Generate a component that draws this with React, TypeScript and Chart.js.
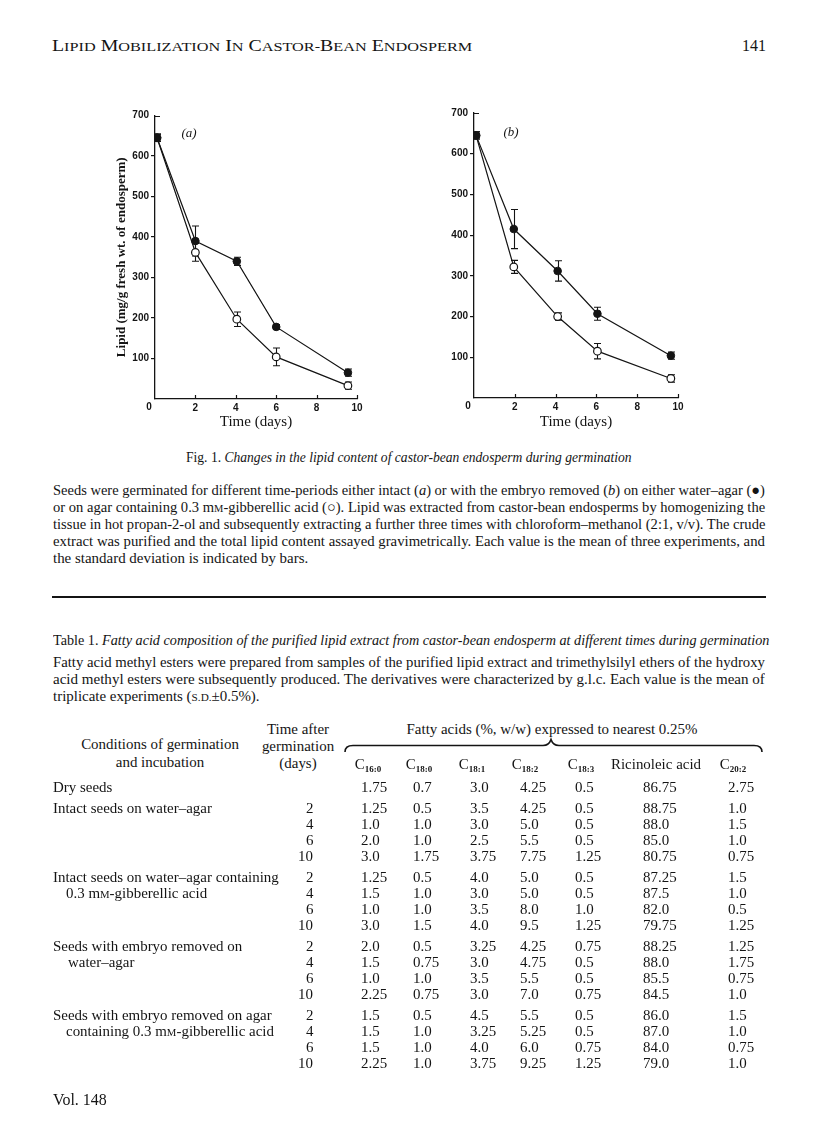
import React, { useEffect, useLayoutEffect, useRef } from 'react';
import { Chart, registerables } from 'chart.js';
Chart.register(...registerables);

// ---------- Figure data ----------
const daysA = [0.1, 2, 4.05, 6, 9.55];
const waterA = [645, 390, 340, 178, 65];
const waterSdA = [9, 37, 10, 6, 9];
const gaA = [645, 362, 197, 104, 33];
const gaSdA = [9, 22, 18, 22, 9];

const daysB = [0.1, 1.95, 4.1, 6.05, 9.65];
const waterB = [645, 415, 312, 207, 104];
const waterSdB = [9, 48, 25, 16, 9];
const gaB = [645, 322, 200, 115, 48];
const gaSdB = [9, 16, 9, 19, 9];

const xTickValues = [2, 4, 6, 8, 10];
const yTopTick = 700;

// ---------- Table data ----------
const rowDays = ['', '2', '4', '6', '10', '2', '4', '6', '10', '2', '4', '6', '10', '2', '4', '6', '10'];
const c16_0 = ['1.75', '1.25', '1.0', '2.0', '3.0', '1.25', '1.5', '1.0', '3.0', '2.0', '1.5', '1.0', '2.25', '1.5', '1.5', '1.5', '2.25'];
const c18_0 = ['0.7', '0.5', '1.0', '1.0', '1.75', '0.5', '1.0', '1.0', '1.5', '0.5', '0.75', '1.0', '0.75', '0.5', '1.0', '1.0', '1.0'];
const c18_1 = ['3.0', '3.5', '3.0', '2.5', '3.75', '4.0', '3.0', '3.5', '4.0', '3.25', '3.0', '3.5', '3.0', '4.5', '3.25', '4.0', '3.75'];
const c18_2 = ['4.25', '4.25', '5.0', '5.5', '7.75', '5.0', '5.0', '8.0', '9.5', '4.25', '4.75', '5.5', '7.0', '5.5', '5.25', '6.0', '9.25'];
const c18_3 = ['0.5', '0.5', '0.5', '0.5', '1.25', '0.5', '0.5', '1.0', '1.25', '0.75', '0.5', '0.5', '0.75', '0.5', '0.5', '0.75', '1.25'];
const ricinoleic = ['86.75', '88.75', '88.0', '85.0', '80.75', '87.25', '87.5', '82.0', '79.75', '88.25', '88.0', '85.5', '84.5', '86.0', '87.0', '84.0', '79.0'];
const c20_2 = ['2.75', '1.0', '1.5', '1.0', '0.75', '1.5', '1.0', '0.5', '1.25', '1.25', '1.75', '0.75', '1.0', '1.5', '1.0', '0.75', '1.0'];
const valueColumns = [c16_0, c18_0, c18_1, c18_2, c18_3, ricinoleic, c20_2];

// layout (positions only)
const rowY = [787, 808, 824, 840, 856, 877, 893, 909, 925, 946, 962, 978, 994, 1015, 1031, 1047, 1063];
const colLeft = [361, 413, 470, 520, 575, 643, 728];
const colHeadX = [368, 419, 472, 525, 581, 656, 733];

const INK = '#141414';
const TICK_FONT = 'bold 10px "Liberation Sans"';

const errorBars = {
  id: 'errorBars',
  beforeDatasetsDraw(chart: any) {
    const { ctx, scales: { x, y } } = chart;
    ctx.save();
    ctx.strokeStyle = INK;
    ctx.lineWidth = 1.1;
    chart.data.datasets.forEach((ds: any) => {
      ds.data.forEach((p: any, i: number) => {
        const sd = ds.sd[i];
        if (!sd) return;
        const px = Math.round(x.getPixelForValue(p.x)) + 0.5;
        const y1 = y.getPixelForValue(p.y - sd);
        const y2 = y.getPixelForValue(p.y + sd);
        ctx.beginPath();
        ctx.moveTo(px, y1); ctx.lineTo(px, y2);
        ctx.moveTo(px - 3.5, y1); ctx.lineTo(px + 3.5, y1);
        ctx.moveTo(px - 3.5, y2); ctx.lineTo(px + 3.5, y2);
        ctx.stroke();
      });
    });
    ctx.restore();
  },
};

const axisTicks = {
  id: 'axisTicks',
  afterDraw(chart: any) {
    const { ctx, scales: { x, y }, chartArea } = chart;
    ctx.save();
    ctx.strokeStyle = INK;
    ctx.lineWidth = 1.2;
    ctx.beginPath();
    xTickValues.forEach((v) => {
      const px = Math.round(x.getPixelForValue(v)) + 0.5;
      ctx.moveTo(px, chartArea.bottom);
      ctx.lineTo(px, chartArea.bottom - 4);
    });
    const ty = Math.round(y.getPixelForValue(yTopTick)) + 0.5;
    ctx.moveTo(chartArea.left, ty);
    ctx.lineTo(chartArea.left + 5, ty);
    ctx.stroke();
    // origin label "0" sits just left of the y axis
    ctx.fillStyle = INK;
    ctx.font = TICK_FONT;
    ctx.textAlign = 'center';
    ctx.textBaseline = 'top';
    ctx.fillText('0', x.getPixelForValue(0) - 6, chartArea.bottom + 3);
    ctx.restore();
  },
};

function ChartPanel(props: any) {
  const { left, top, w, h, yWidth, xHeight, padTop, padRight, days, water, waterSd, ga, gaSd, yTitle } = props;
  const ref = useRef<HTMLCanvasElement>(null);
  useEffect(() => {
    const tickFont = { family: 'Liberation Sans', weight: 'bold' as const, size: 10 };
    const chart = new Chart(ref.current!, {
      type: 'line',
      data: {
        datasets: [
          {
            label: 'water-agar',
            data: days.map((d: number, i: number) => ({ x: d, y: water[i] })),
            sd: waterSd,
            borderColor: INK, borderWidth: 1.2,
            pointRadius: 3.8, pointBackgroundColor: INK, pointBorderColor: INK, pointBorderWidth: 1,
            tension: 0,
          } as any,
          {
            label: '0.3mM-gibberellic acid',
            data: days.map((d: number, i: number) => ({ x: d, y: ga[i] })),
            sd: gaSd,
            borderColor: INK, borderWidth: 1.2,
            pointRadius: 3.8, pointBackgroundColor: '#fff', pointBorderColor: INK, pointBorderWidth: 1.2,
            tension: 0,
          } as any,
        ],
      },
      options: {
        responsive: false,
        animation: false,
        devicePixelRatio: 1,
        layout: { padding: { top: padTop, right: padRight, left: 0, bottom: 0 } },
        plugins: { legend: { display: false }, tooltip: { enabled: false } },
        scales: {
          x: {
            type: 'linear', min: 0, max: 10,
            afterFit: (s: any) => { s.height = xHeight; },
            grid: { display: false, drawTicks: false },
            border: { display: true, color: INK, width: 1.3 },
            ticks: { stepSize: 2, padding: 3, color: INK, font: tickFont, maxRotation: 0, callback: (v: any) => (v === 0 ? '' : String(v)) },
            title: { display: true, text: 'Time (days)', color: INK, font: { family: 'Liberation Serif', size: 15 }, padding: { top: 0, bottom: 9 } },
          },
          y: {
            min: 0, max: 700,
            afterFit: (s: any) => { s.width = yWidth; },
            grid: {
              drawOnChartArea: false, drawTicks: true, tickLength: 4, lineWidth: 1.2,
              color: (c: any) => (c.tick && (c.tick.value === 0 || c.tick.value === 700) ? 'rgba(0,0,0,0)' : INK),
            },
            border: { display: true, color: INK, width: 1.3 },
            ticks: { stepSize: 100, padding: 2, color: INK, font: tickFont, callback: (v: any) => (v === 0 ? '' : String(v)) },
            title: yTitle
              ? { display: true, text: yTitle, color: INK, font: { family: 'Liberation Serif', size: 13, weight: 'bold' }, padding: { top: 14, bottom: 0 } }
              : { display: false },
          },
        },
      } as any,
      plugins: [errorBars, axisTicks],
    });
    return () => chart.destroy();
  }, []);
  return <canvas ref={ref} width={w} height={h} style={{ position: 'absolute', left, top, width: w, height: h }} />;
}

type TP = { x: number; y: number; a?: 'l' | 'c' | 'r'; fit?: number; size?: number; style?: React.CSSProperties; children?: any };
function T({ x, y, a = 'l', fit, size = 15, style, children }: TP) {
  const lh = Math.round(size * 1.2);
  const outer: React.CSSProperties = { position: 'absolute', left: x, top: y - lh / 2, width: 0, height: lh };
  const inner: React.CSSProperties = {
    position: 'absolute', top: 0, whiteSpace: 'nowrap', fontSize: size, lineHeight: lh + 'px', color: INK, ...style,
  };
  if (a === 'r') inner.right = 0; else inner.left = 0;
  return (
    <div style={outer}>
      <span data-t={a} data-fit={fit} style={inner}>{children}</span>
    </div>
  );
}

const I = ({ children }: any) => <i>{children}</i>;
const MM = () => (<>m<span style={{ fontSize: '0.72em' }}>M</span></>);
const Sub = ({ c }: { c: string }) => (
  <>C<sub style={{ fontSize: 9, fontWeight: 'bold', verticalAlign: '-3px', lineHeight: 0 }}>{c}</sub></>
);
const SC = ({ w }: { w: string }) => (
  <>{w[0]}<span style={{ fontSize: '0.82em' }}>{w.slice(1)}</span></>
);

export default function App() {
  const rootRef = useRef<HTMLDivElement>(null);
  useLayoutEffect(() => {
    const root = rootRef.current!;
    const els = Array.from(root.querySelectorAll('[data-t]')) as HTMLElement[];
    const ss: number[] = [];
    els.forEach((el) => {
      const f = el.dataset.fit;
      if (f) {
        const s = parseFloat(f) / el.offsetWidth;
        ss.push(s);
        el.style.transformOrigin = '0 50%';
        el.style.transform = `scaleX(${s})`;
      }
    });
    const avg = ss.length ? ss.reduce((p, q) => p + q, 0) / ss.length : 1;
    els.forEach((el) => {
      if (el.dataset.fit) return;
      const a = el.dataset.t;
      if (a === 'l') { el.style.transformOrigin = '0 50%'; el.style.transform = `scaleX(${avg})`; }
      else if (a === 'r') { el.style.transformOrigin = '100% 50%'; el.style.transform = `scaleX(${avg})`; }
      else { el.style.transformOrigin = '50% 50%'; el.style.transform = `translateX(-50%) scaleX(${avg})`; }
    });
  }, []);

  const rowLabels: [number, number, any][] = [
    [0, 53, 'Dry seeds'],
    [1, 53, 'Intact seeds on water–agar'],
    [5, 53, 'Intact seeds on water–agar containing'],
    [6, 66, <>0.3 <MM />-gibberellic acid</>],
    [9, 53, 'Seeds with embryo removed on'],
    [10, 68, 'water–agar'],
    [13, 53, 'Seeds with embryo removed on agar'],
    [14, 66, <>containing 0.3 <MM />-gibberellic acid</>],
  ];
  const colHeads = [<Sub c="16:0" />, <Sub c="18:0" />, <Sub c="18:1" />, <Sub c="18:2" />, <Sub c="18:3" />, 'Ricinoleic acid', <Sub c="20:2" />];

  return (
    <div ref={rootRef} style={{ position: 'absolute', left: 0, top: 0, width: 816, height: 1136, background: '#fff', fontFamily: '"Liberation Serif", serif', color: INK, overflow: 'hidden' }}>
      {/* running head */}
      <T x={52} y={45} size={16} fit={420}>
        <SC w="LIPID" /> <SC w="MOBILIZATION" /> <SC w="IN" /> <SC w="CASTOR-" /><SC w="BEAN" /> <SC w="ENDOSPERM" />
      </T>
      <T x={766} y={45} a="r" size={16}>141</T>

      {/* charts */}
      <ChartPanel left={100} top={100} w={280} h={340} yWidth={55} xHeight={41} padTop={15.5} padRight={23}
        days={daysA} water={waterA} waterSd={waterSdA} ga={gaA} gaSd={gaSdA} yTitle="Lipid (mg/g fresh wt. of endosperm)" />
      <ChartPanel left={420} top={100} w={280} h={340} yWidth={54} xHeight={42} padTop={13} padRight={22}
        days={daysB} water={waterB} waterSd={waterSdB} ga={gaB} gaSd={gaSdB} yTitle="" />
      <T x={189} y={133} a="c" size={13}><I>(a)</I></T>
      <T x={511} y={132} a="c" size={13}><I>(b)</I></T>

      {/* figure caption */}
      <T x={186} y={457} fit={446}>Fig. 1. <I>Changes in the lipid content of castor-bean endosperm during germination</I></T>
      <T x={53} y={490} fit={712}>Seeds were germinated for different time-periods either intact (<I>a</I>) or with the embryo removed (<I>b</I>) on either water–agar (●)</T>
      <T x={53} y={507} fit={712}>or on agar containing 0.3 <MM />-gibberellic acid (○). Lipid was extracted from castor-bean endosperms by homogenizing the</T>
      <T x={53} y={524} fit={712}>tissue in hot propan-2-ol and subsequently extracting a further three times with chloroform–methanol (2:1, v/v). The crude</T>
      <T x={53} y={541} fit={712}>extract was purified and the total lipid content assayed gravimetrically. Each value is the mean of three experiments, and</T>
      <T x={53} y={558}>the standard deviation is indicated by bars.</T>

      <div style={{ position: 'absolute', left: 52, top: 596, width: 714, height: 2, background: INK }} />

      {/* table title */}
      <T x={53} y={640} fit={716}>Table 1. <I>Fatty acid composition of the purified lipid extract from castor-bean endosperm at different times during germination</I></T>
      <T x={53} y={662} fit={712}>Fatty acid methyl esters were prepared from samples of the purified lipid extract and trimethylsilyl ethers of the hydroxy</T>
      <T x={53} y={679} fit={712}>acid methyl esters were subsequently produced. The derivatives were characterized by g.l.c. Each value is the mean of</T>
      <T x={53} y={696}>triplicate experiments (<span style={{ fontSize: '0.75em' }}>S.D.</span>±0.5%).</T>

      {/* table header */}
      <T x={160} y={744} a="c">Conditions of germination</T>
      <T x={160} y={762} a="c">and incubation</T>
      <T x={298} y={729} a="c">Time after</T>
      <T x={298} y={746} a="c">germination</T>
      <T x={298} y={763} a="c">(days)</T>
      <T x={552} y={729} a="c">Fatty acids (%, w/w) expressed to nearest 0.25%</T>
      <svg style={{ position: 'absolute', left: 0, top: 0 }} width={816} height={1136}>
        <path d="M345,752 Q345,745.5 353,745.5 L543,745.5 Q549,745.5 551,739.5 Q553,745.5 559,745.5 L754,745.5 Q762,745.5 762,752"
          fill="none" stroke={INK} strokeWidth={1.6} />
      </svg>
      {colHeads.map((hd, i) => (
        <T key={'h' + i} x={colHeadX[i]} y={764} a="c">{hd}</T>
      ))}

      {/* table body */}
      {rowLabels.map(([r, x, txt], i) => (
        <T key={'l' + i} x={x} y={rowY[r]}>{txt}</T>
      ))}
      {rowDays.map((d, r) => (d ? <T key={'d' + r} x={313} y={rowY[r]} a="r">{d}</T> : null))}
      {valueColumns.map((col, c) =>
        col.map((v, r) => (
          <T key={'v' + c + '-' + r} x={colLeft[c]} y={rowY[r]}>{v}</T>
        ))
      )}

      <T x={53} y={1099} size={16}>Vol. 148</T>
    </div>
  );
}
